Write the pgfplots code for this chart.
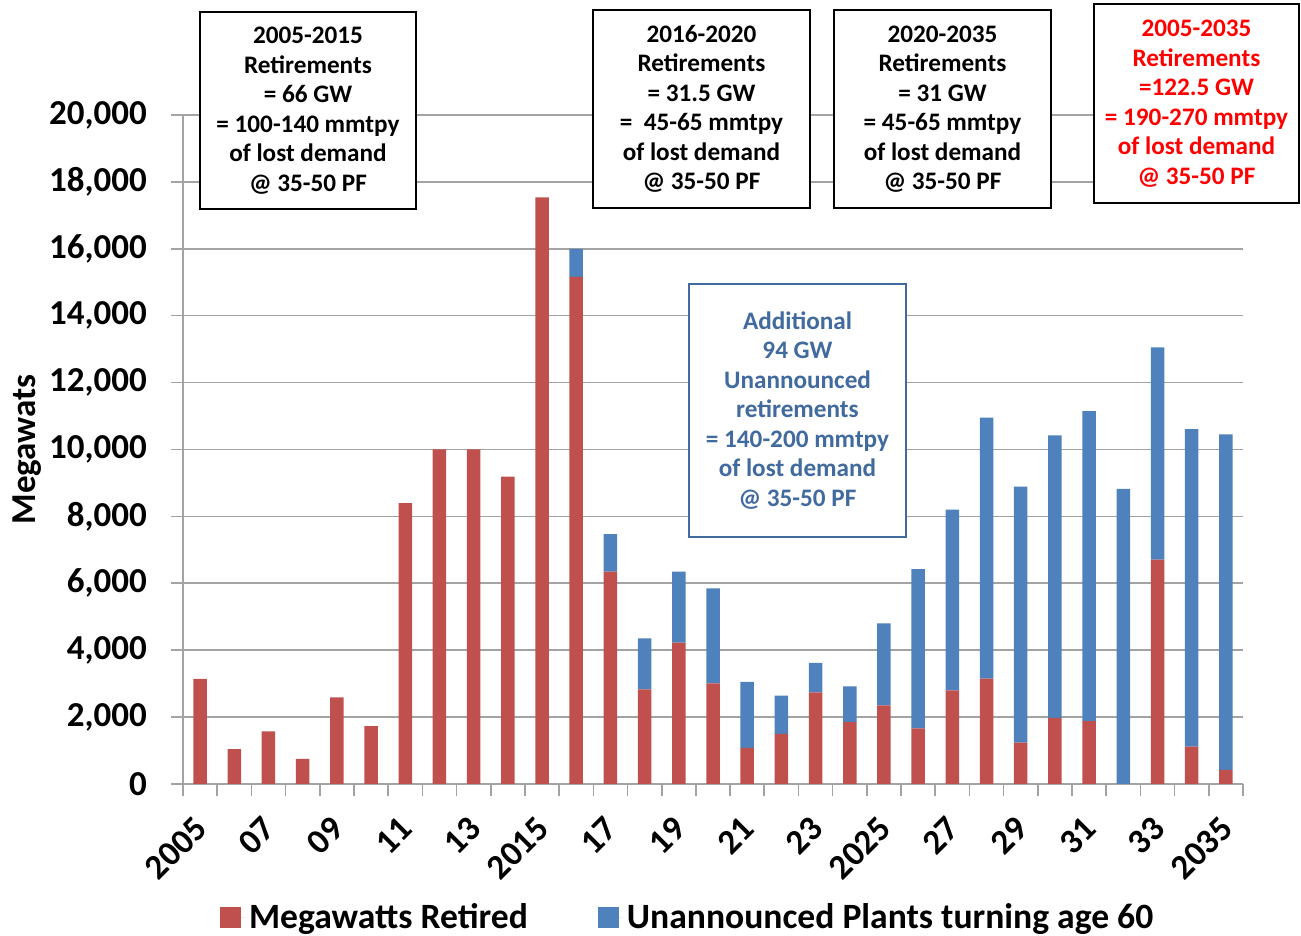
\documentclass[border=0pt]{standalone}
\usepackage{pgfplots}
\usepackage{pgfplotstable}
\usepackage{fontspec}
\setmainfont{Carlito}
\pgfplotsset{compat=1.18}

\definecolor{retired}{HTML}{C0504D}
\definecolor{unann}{HTML}{4F81BD}
\definecolor{gridg}{HTML}{A3A3A3}
\definecolor{boxblue}{HTML}{416A9F}

% year index (0 = 2005), megawatts retired, unannounced plants turning 60
\pgfplotstableread{
x  red    blue
0  3140   0
1  1040   0
2  1570   0
3  750    0
4  2590   0
5  1730   0
6  8400   0
7  10000  0
8  10000  0
9  9190   0
10 17540  0
11 15160  840
12 6350   1120
13 2830   1520
14 4230   2120
15 3010   2840
16 1080   1970
17 1500   1140
18 2740   880
19 1850   1070
20 2350   2450
21 1660   4760
22 2800   5400
23 3150   7800
24 1240   7650
25 1980   8440
26 1880   9270
27 0      8820
28 6710   6340
29 1120   9490
30 420    10030
}\mwdata

\newcommand{\bigf}{\bfseries\fontsize{17.5}{20}\selectfont}
\newcommand{\legf}{\bfseries\fontsize{17.8}{20}\selectfont}
\newcommand{\boxf}{\bfseries\fontsize{12.6}{14.75}\selectfont}

\begin{document}
\begin{tikzpicture}
\begin{axis}[
    scale only axis,
    width=530pt, height=334.5pt,
    ybar stacked,
    bar width=6.75pt,
    xmin=-0.5, xmax=30.5,
    ymin=0, ymax=20000,
    ytick={0,2000,...,20000},
    minor ytick={0,2000,...,20000},
    scaled y ticks=false,
    /pgf/number format/.cd, 1000 sep={,}, assume math mode=true,
    /pgfplots/.cd,
    xtick={0,2,...,30},
    xticklabels={2005,07,09,11,13,2015,17,19,21,23,2025,27,29,31,33,2035},
    minor xtick={-0.5,0.5,...,30.5},
    xticklabel style={xshift=3pt, yshift=-17pt, rotate=45, anchor=east},
    yticklabel style={xshift=-14.5pt},
    axis x line*=bottom,
    axis y line*=left,
    axis line style={gridg, line width=0.8pt},
    tick align=outside,
    major tick length=0pt,
    minor tick length=6pt,
    tick style={gridg, line width=0.8pt},
    ymajorgrids=true,
    grid style={gridg, line width=0.8pt},
    tick label style={font=\bigf},
    ylabel={Megawats},
    ylabel style={font=\bigf, at={(axis description cs:-0.147,0.5)}, anchor=center},
    legend columns=2,
    legend style={at={(axis description cs:0.477,-0.199)}, anchor=center,
        draw=none, font=\legf,
        /tikz/every even column/.append style={column sep=33pt}},
    legend image code/.code={\fill[#1] (0pt,-5.25pt) rectangle (10.5pt,5.25pt);
        \path (0pt,0pt) -- (12.5pt,0pt);},
    clip=false,
]
\addplot[fill=retired, draw=none] table[x=x, y=red] {\mwdata};
\addplot[fill=unann, draw=none] table[x=x, y=blue] {\mwdata};
\legend{Megawatts Retired, Unannounced Plants turning age 60}
\end{axis}

\tikzset{note/.style={draw=black, line width=1pt, fill=white, align=center,
    inner sep=0pt, font=\boxf}}
\node[note, minimum width=108pt, minimum height=98.5pt] at (62.5pt,336.75pt)
    {2005-2015\\Retirements\\= 66 GW\\= 100-140 mmtpy\\of lost demand\\@ 35-50 PF};
\node[note, minimum width=108.5pt, minimum height=99pt] at (259.25pt,337.5pt)
    {2016-2020\\Retirements\\= 31.5 GW\\=~ 45-65 mmtpy\\of lost demand\\@ 35-50 PF};
\node[note, minimum width=108.5pt, minimum height=99pt] at (379.75pt,337.5pt)
    {2020-2035\\Retirements\\= 31 GW\\= 45-65 mmtpy\\of lost demand\\@ 35-50 PF};
\node[note, text=red, minimum width=102.5pt, minimum height=99.5pt] at (506.75pt,340.25pt)
    {2005-2035\\Retirements\\=122.5 GW\\= 190-270 mmtpy\\of lost demand\\@ 35-50 PF};
\node[note, draw=boxblue, text=boxblue, minimum width=108.5pt, minimum height=126.5pt]
    at (307.25pt,186.75pt)
    {Additional\\94 GW\\Unannounced\\retirements\\= 140-200 mmtpy\\of lost demand\\@ 35-50 PF};

\pgfresetboundingbox
\path[use as bounding box] (-91.5pt,-76pt) rectangle (559pt,392pt);
\end{tikzpicture}
\end{document}
